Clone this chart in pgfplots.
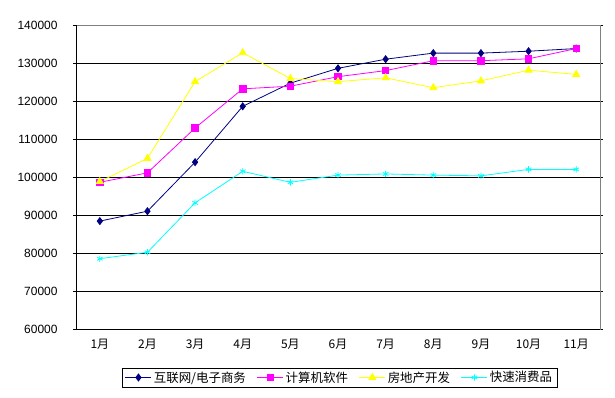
\documentclass[border=0pt]{standalone}
\usepackage{fontspec}
\setmainfont{Liberation Sans}
\newfontfamily\cjk{Noto Sans CJK SC}
\usepackage{pgfplots}
\pgfplotsset{compat=1.18}
\definecolor{navyc}{RGB}{0,0,128}
\definecolor{magc}{RGB}{255,0,255}
\definecolor{yelc}{RGB}{255,255,0}
\definecolor{cyac}{RGB}{0,255,255}
\begin{document}
\begin{tikzpicture}[x=1bp,y=1bp]
\useasboundingbox (0,0) rectangle (615,397);
\begin{axis}[
  at={(76bp,68bp)}, anchor=south west,
  scale only axis, width=524bp, height=304bp,
  xmin=0.5, xmax=11.5, ymin=60000, ymax=140000,
  xtick={1,...,11},
  xticklabels={1月,2月,3月,4月,5月,6月,7月,8月,9月,10月,11月},
  minor xtick={1.5,2.5,...,10.5},
  ytick={60000,70000,...,140000},
  yticklabels={60000,70000,80000,90000,100000,110000,120000,130000,140000},
  ymajorgrids, grid style={black, line width=0.8pt},
  tick align=outside, tick style={black, line width=0.8pt},
  xtick style={draw=none}, minor x tick style={black, line width=0.8pt},
  minor tick length=4bp, major tick length=3bp,
  axis line style={draw=gray, line width=0.8pt},
  scaled y ticks=false,
  yticklabel style={font=\fontsize{12}{14}\selectfont, xshift=-12bp},
  xticklabel style={font=\cjk\fontsize{12}{14}\selectfont, yshift=-4bp},
  legend columns=4,
  legend style={at={(0.503,-0.1595)}, anchor=center, draw=black, line width=0.8pt,
    font=\cjk\fontsize{12.5}{14}\selectfont, inner xsep=3bp, inner ysep=1.5bp,
    /tikz/every even column/.append style={column sep=9bp}},
  legend image code/.code={\draw[mark repeat=2,mark phase=2] plot coordinates {(0bp,0bp) (13bp,0bp) (26bp,0bp)};},
]
\addplot[navyc, line width=0.8pt, mark=diamond*, mark size=3.5bp, mark options={solid}] coordinates {
(1,88400) (2,91000) (3,103900) (4,118600) (5,124700) (6,128600) (7,131000) (8,132600) (9,132600) (10,133100) (11,133800)};
\addlegendentry{互联网/电子商务}
\addplot[magc, line width=0.8pt, mark=square*, mark size=3.2bp] coordinates {
(1,98600) (2,101100) (3,112900) (4,123200) (5,123900) (6,126400) (7,128000) (8,130600) (9,130600) (10,131100) (11,133800)};
\addlegendentry{计算机软件}
\addplot[yelc, line width=0.8pt, mark=triangle*, mark size=4bp] coordinates {
(1,98800) (2,104900) (3,125100) (4,132700) (5,125900) (6,125100) (7,126100) (8,123500) (9,125300) (10,128100) (11,127000)};
\addlegendentry{房地产开发}
\addplot[cyac, line width=0.8pt, mark=asterisk, mark size=3.2bp] coordinates {
(1,78500) (2,80200) (3,93200) (4,101500) (5,98600) (6,100500) (7,100800) (8,100500) (9,100300) (10,102000) (11,102000)};
\addlegendentry{快速消费品}
\draw[gray, line width=0.8pt] (rel axis cs:0,1) -- (rel axis cs:1,1) -- (rel axis cs:1,0);
\draw[black, line width=0.8pt] (rel axis cs:0,1) -- (rel axis cs:0,0) -- (rel axis cs:1,0);
\end{axis}
\end{tikzpicture}
\end{document}
